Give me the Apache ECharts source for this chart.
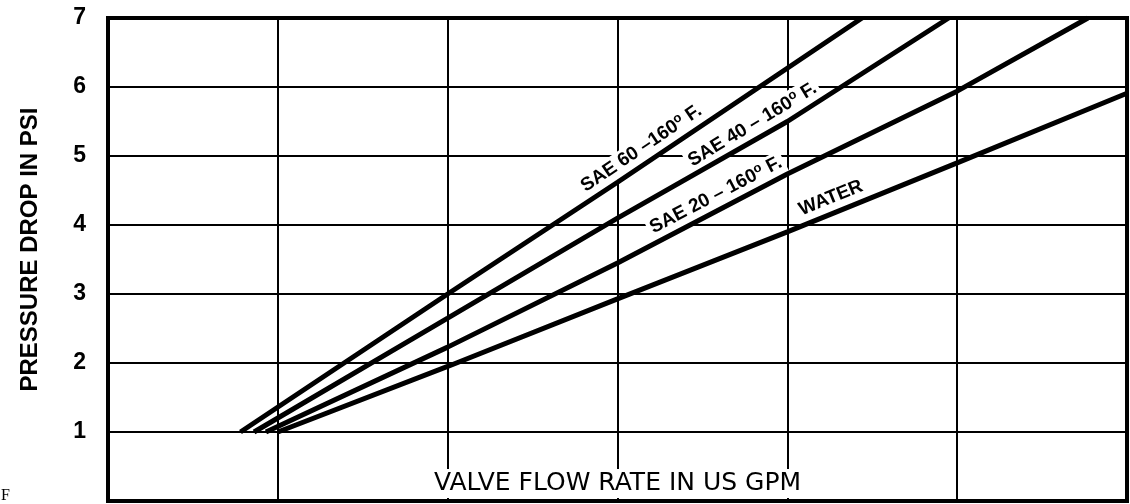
<!DOCTYPE html>
<html>
<head>
<meta charset="utf-8">
<script src="https://cdn.jsdelivr.net/npm/echarts@6/dist/echarts.min.js"></script>
<style>
  html, body { margin: 0; padding: 0; background: #fff; }
  #chart { width: 1130px; height: 504px; }
</style>
</head>
<body>
<div id="chart"></div>
<script>
// y axis tick labels (pressure drop, psi)
const yTicks = [1, 2, 3, 4, 5, 6, 7]

// flow rate in grid units along x (the scale numbers are cut off in the picture)
const sae60X = [0.78, 2, 3, 4.44]
const sae60Y = [1, 3.0, 4.62, 7]

const sae40X = [0.86, 2, 3, 4, 4.95]
const sae40Y = [1, 2.65, 4.1, 5.5, 7]

const sae20X = [0.93, 2, 3, 4, 5, 5.77]
const sae20Y = [1, 2.23, 3.45, 4.74, 5.94, 7]

const waterX = [1.0, 2, 3, 4, 5, 6]
const waterY = [1, 1.95, 2.93, 3.9, 4.9, 5.91]

const seriesNames = ['SAE 60', 'SAE 40', 'SAE 20', 'WATER']

// text written along each line, anchored on the line and sitting on top of it
const lineLabels = [
  { text: '{a|SAE 60 –160}{s|o}{a| F.}', at: [3.19, 4.93], angle: 34 },
  { text: '{a|SAE 40 – 160}{s|o}{a| F.}', at: [3.84, 5.27], angle: 31 },
  { text: '{a|SAE 20 – 160}{s|o}{a| F.}', at: [3.62, 4.24], angle: 27.5 },
  { text: '{a|WATER}', at: [4.29, 4.19], angle: 22 }
]

const pairUp = (xs, ys) => xs.map((x, i) => [x, ys[i]])

const chart = echarts.init(document.getElementById('chart'))

const font = '"Liberation Sans", Arial, sans-serif'

const allLines = [
  pairUp(sae60X, sae60Y),
  pairUp(sae40X, sae40Y),
  pairUp(sae20X, sae20Y),
  pairUp(waterX, waterY)
]

const option = {
  animation: false,
  backgroundColor: '#fff',
  grid: {
    left: 108,
    right: 3,
    top: 18,
    bottom: 3,
    show: true,
    borderColor: '#000',
    borderWidth: 4,
    z: 5
  },
  xAxis: {
    type: 'value',
    min: 0,
    max: 6,
    interval: 1,
    axisLine: { show: false },
    axisTick: { show: false },
    axisLabel: { show: false },
    splitLine: { lineStyle: { color: '#000', width: 2 } },
    name: 'VALVE FLOW RATE IN US GPM',
    nameLocation: 'middle',
    nameGap: -32,
    nameTextStyle: {
      fontFamily: '"DejaVu Sans", sans-serif',
      fontSize: 25,
      color: '#000',
      backgroundColor: '#fff',
      padding: [2, 4, 2, 4]
    }
  },
  yAxis: {
    type: 'value',
    min: 0,
    max: 7,
    interval: 1,
    axisLine: { show: false },
    axisTick: { show: false },
    axisLabel: {
      margin: 22,
      fontFamily: font,
      fontSize: 23,
      fontWeight: 'bold',
      color: '#000',
      formatter: (v) => (yTicks.includes(v) ? String(v) : '')
    },
    splitLine: { lineStyle: { color: '#000', width: 2 } },
    name: 'PRESSURE DROP IN PSI',
    nameLocation: 'middle',
    nameGap: 66,
    nameTextStyle: {
      fontFamily: font,
      fontSize: 24,
      fontWeight: 'bold',
      color: '#000',
      padding: [0, 0, 0, 20]
    }
  },
  series: allLines.map((data, i) => ({
    name: seriesNames[i],
    type: 'line',
    data: data,
    showSymbol: false,
    symbol: 'none',
    z: 3,
    lineStyle: { color: '#000', width: 5 }
  }))
}

chart.setOption(option)

// put the labels along the lines, converted from data coordinates
const labelGraphics = lineLabels.map((lb) => {
  const p = chart.convertToPixel({ gridIndex: 0 }, lb.at)
  return {
    type: 'text',
    x: p[0],
    y: p[1],
    rotation: (lb.angle * Math.PI) / 180,
    z: 1,
    style: {
      text: lb.text,
      align: 'center',
      verticalAlign: 'bottom',
      backgroundColor: '#fff',
      padding: [0, 3, 4, 3],
      rich: {
        a: { fontFamily: font, fontSize: 19, fontWeight: 'bold', fill: '#000', lineHeight: 22 },
        s: { fontFamily: font, fontSize: 13, fontWeight: 'bold', fill: '#000', verticalAlign: 'top', lineHeight: 22, padding: [0, 0, 8, 0] }
      }
    }
  }
})

chart.setOption({
  graphic: labelGraphics.concat([
    {
      type: 'text',
      left: 1,
      top: 488,
      style: { text: 'F', fontFamily: '"Liberation Serif", serif', fontSize: 16, fill: '#000' }
    }
  ])
})
</script>
</body>
</html>
